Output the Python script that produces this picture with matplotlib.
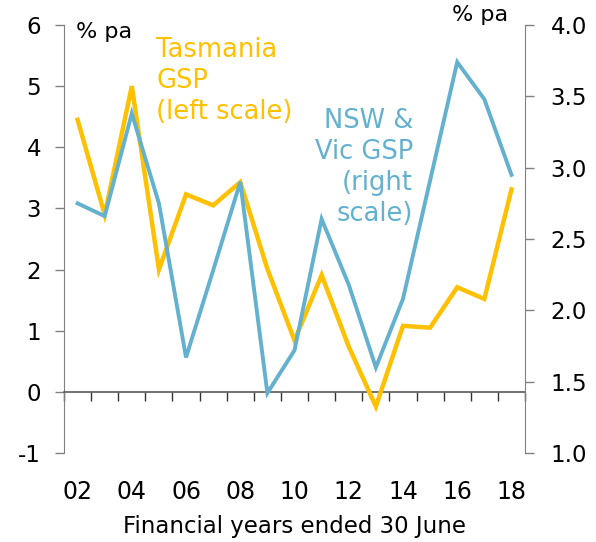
import matplotlib
matplotlib.use("Agg")
import matplotlib.pyplot as plt

years = list(range(2002, 2019))
tasmania = [4.45, 2.9, 5.0, 2.0, 3.23, 3.05, 3.43, 2.01, 0.84, 1.91, 0.74, -0.24, 1.08, 1.05, 1.71, 1.52, 3.31]
nsw_vic = [2.75, 2.66, 3.38, 2.75, 1.67, 2.28, 2.90, 1.42, 1.72, 2.64, 2.18, 1.60, 2.08, 2.91, 3.74, 3.48, 2.95]

left_ticks = [-1, 0, 1, 2, 3, 4, 5, 6]
right_ticks = [1.0, 1.5, 2.0, 2.5, 3.0, 3.5, 4.0]

yellow = "#FFC000"
blue = "#63B1CF"
grey = "#808080"

plt.rcParams["font.family"] = "DejaVu Sans"
plt.rcParams["font.size"] = 15

fig = plt.figure(figsize=(5.96, 5.42), dpi=100)
ax = fig.add_axes([64 / 596, 1 - 453 / 542, 461 / 596, 428 / 542])
ax2 = ax.twinx()

ax.plot(years, tasmania, color=yellow, lw=3.2, solid_joinstyle="miter", zorder=3)
ax2.plot(years, nsw_vic, color=blue, lw=2.8, solid_joinstyle="miter", zorder=3)

ax.set_xlim(years[0] - 0.5, years[-1] + 0.5)
ax.set_ylim(left_ticks[0], left_ticks[-1])
ax2.set_ylim(right_ticks[0], right_ticks[-1])

ax.set_yticks(left_ticks)
ax.set_yticklabels([str(t) for t in left_ticks])
ax2.set_yticks(right_ticks)
ax2.set_yticklabels([f"{t:.1f}" for t in right_ticks])

# zero line carries the year-boundary ticks
ax.spines["bottom"].set_position(("data", 0))
ax.spines["bottom"].set_color("#595959")
ax.spines["bottom"].set_linewidth(1.2)
ax.set_xticks([y - 0.5 for y in years] + [years[-1] + 0.5])
ax.set_xticklabels([])
ax.tick_params(axis="x", direction="out", length=6.5, width=1, color="#333333")

for a in (ax, ax2):
    a.spines["top"].set_visible(False)
    a.patch.set_visible(False)
ax.spines["right"].set_visible(False)
ax2.spines["bottom"].set_visible(False)
ax2.spines["left"].set_visible(False)
ax.spines["left"].set_color(grey)
ax2.spines["right"].set_color(grey)
ax.tick_params(axis="y", direction="out", length=6.5, width=1, color=grey, pad=10, labelsize=16.5)
ax2.tick_params(axis="y", direction="out", length=6.5, width=1, color=grey, pad=12, labelsize=16.5)

xtr = ax.get_xaxis_transform()
for y in years[::2]:
    ax.text(y, -0.092, f"{y % 100:02d}", transform=xtr, ha="center", va="center", fontsize=17)
ax.text(0.5, -0.172, "Financial years ended 30 June", transform=ax.transAxes,
        ha="center", va="center", fontsize=16.5)

ax.text(0.027, 1.007, "% pa", transform=ax.transAxes, ha="left", va="top", fontsize=16)
ax.text(0.902, 1.023, "% pa", transform=ax.transAxes, ha="center", va="center", fontsize=16)

ax.text(2004.9, 5.8, "Tasmania\nGSP\n(left scale)", color=yellow, ha="left", va="top",
        fontsize=18.5, linespacing=1.25)
ax2.text(2014.37, 3.0, "NSW &\nVic GSP\n(right\nscale)", color=blue, ha="right", va="center",
         fontsize=18.5, linespacing=1.25)

fig.savefig("out.png", dpi=100)
